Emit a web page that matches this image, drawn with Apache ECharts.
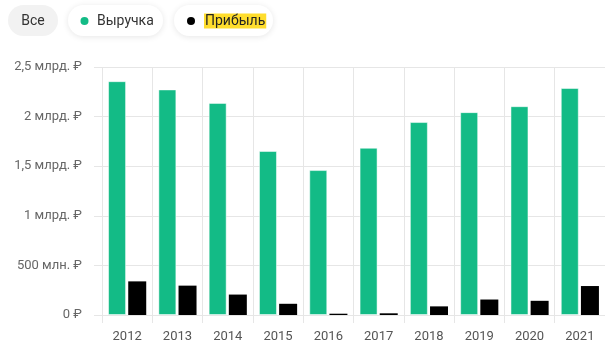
<!DOCTYPE html>
<html>
<head>
<meta charset="utf-8">
<script src="https://cdn.jsdelivr.net/npm/echarts@6/dist/echarts.min.js"></script>
<style>
html,body{margin:0;padding:0;background:#fff;}
#c{width:605px;height:343px;}
</style>
</head>
<body>
<div id="c"></div>
<script>
// Data (values in millions of rubles)
const years = ['2012','2013','2014','2015','2016','2017','2018','2019','2020','2021'];
const revenue = [2357, 2274, 2138, 1653, 1461, 1686, 1945, 2045, 2105, 2288];
const profit = [339, 296, 206, 113, 13, 17, 87, 156, 143, 292];
const revenueName = 'Выручка';
const profitName = 'Прибыль';
const allLabel = 'Все';
const revenueColor = '#13bb86';
const profitColor = '#000000';

const FONT = 'Roboto, "Noto Sans", sans-serif';

function fmtY(v) {
  if (v === 0) return '0 ₽';
  if (v >= 1000) return String(v / 1000).replace('.', ',') + ' млрд. ₽';
  return v + ' млн. ₽';
}

const chart = echarts.init(document.getElementById('c'), null, {renderer: 'canvas'});
chart.setOption({
  animation: false,
  textStyle: {fontFamily: FONT},
  graphic: [
    {type: 'rect', shape: {x: 8, y: 5, width: 50, height: 31, r: 15.5}, style: {fill: '#f2f2f2'}, z: 0},
    {type: 'text', style: {text: allLabel, x: 33, y: 21, fill: '#333', font: '14px ' + FONT, align: 'center', verticalAlign: 'middle'}, z: 1},
    {type: 'rect', shape: {x: 68, y: 5, width: 95, height: 31, r: 15.5}, style: {fill: '#fff', shadowBlur: 6, shadowColor: 'rgba(0,0,0,0.10)', shadowOffsetY: 1}, z: 0},
    {type: 'circle', shape: {cx: 84.5, cy: 21, r: 4}, style: {fill: revenueColor}, z: 1},
    {type: 'text', style: {text: revenueName, x: 97, y: 21, fill: '#333', font: '14px ' + FONT, align: 'left', verticalAlign: 'middle'}, z: 1},
    {type: 'rect', shape: {x: 174, y: 5, width: 99, height: 31, r: 15.5}, style: {fill: '#fff', shadowBlur: 6, shadowColor: 'rgba(0,0,0,0.10)', shadowOffsetY: 1}, z: 0},
    {type: 'circle', shape: {cx: 191, cy: 21, r: 4}, style: {fill: profitColor}, z: 1},
    {type: 'text', style: {text: profitName, x: 204, y: 21, fill: '#222', font: '14px ' + FONT, align: 'left', verticalAlign: 'middle',
      backgroundColor: '#ffdd2d', padding: [1, 1, 0, 1]}, z: 1}
  ],
  grid: {left: 102, right: -3, top: 67, bottom: 25, containLabel: false},
  xAxis: {
    type: 'category',
    data: years,
    axisLine: {show: true, lineStyle: {color: '#e6e6e6'}},
    axisTick: {show: true, length: 8, lineStyle: {color: '#e6e6e6'}},
    splitLine: {show: true, lineStyle: {color: '#e6e6e6'}},
    axisLabel: {color: '#555', fontSize: 13, margin: 15}
  },
  yAxis: {
    type: 'value',
    min: 0, max: 2500, interval: 500,
    axisLine: {show: false},
    axisTick: {show: true, length: 8, lineStyle: {color: '#e6e6e6'}},
    splitLine: {show: true, lineStyle: {color: '#e6e6e6'}},
    axisLabel: {color: '#666', fontSize: 13, margin: 20, formatter: fmtY}
  },
  series: [
    {
      name: revenueName, type: 'bar', data: revenue, barWidth: 18, barGap: '12%',
      itemStyle: {color: revenueColor, borderColor: 'rgba(255,255,255,0.5)', borderWidth: 1}
    },
    {
      name: profitName, type: 'bar', data: profit, barWidth: 18,
      itemStyle: {color: profitColor}
    }
  ]
});
</script>
</body>
</html>
